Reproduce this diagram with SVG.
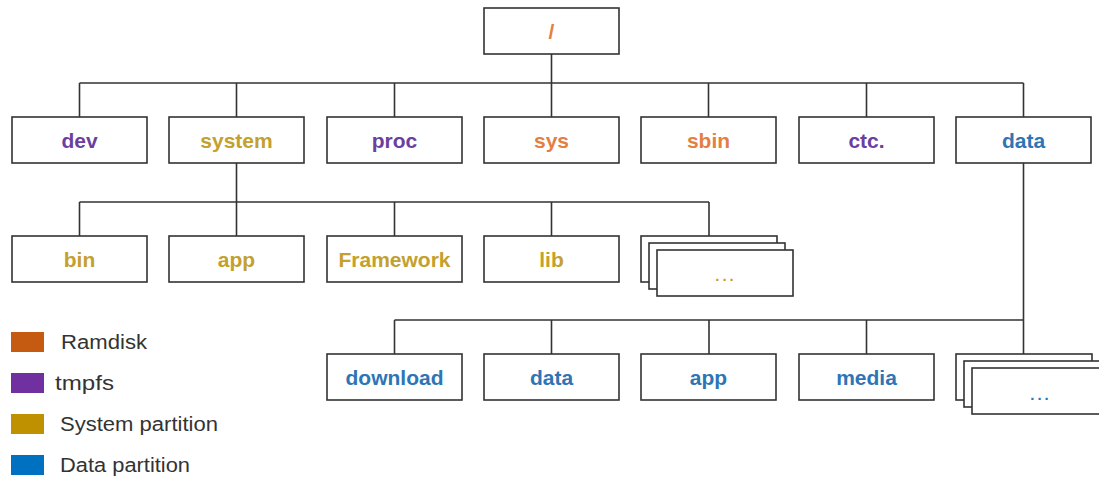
<svg xmlns="http://www.w3.org/2000/svg" width="1099" height="477" viewBox="0 0 1099 477">
<style>
.box{fill:#fff;stroke:#333;stroke-width:1.6}
.lbl{font-family:"Liberation Sans",Arial,sans-serif;font-weight:bold;font-size:21px;text-anchor:middle}
.dots{font-family:"Liberation Sans",Arial,sans-serif;font-weight:bold;font-size:15px;text-anchor:middle;letter-spacing:3px}
.leg{font-family:"Liberation Sans",Arial,sans-serif;font-size:20px;fill:#333}
.ram{fill:#E4803F}.tmp{fill:#6B3FA0}.sysp{fill:#C4A02E}.dat{fill:#2E75B6}
.con{fill:none;stroke:#333;stroke-width:1.6}
</style>
<rect width="1099" height="477" fill="#fff"/>
<g id="connectors">
<path class="con" d="M551.5 54V83M79.5 83H1023.5M79.5 83V117M236.5 83V117M394.5 83V117M551.5 83V117M708.5 83V117M866.5 83V117M1023.5 83V117"/>
<path class="con" d="M236.5 163V202M79.5 202H709M79.5 202V236M236.5 202V236M394.5 202V236M551.5 202V236M709 202V236"/>
<path class="con" d="M1023.5 163V354M394.5 320H1023.5M394.5 320V354M551.5 320V354M709 320V354M866.5 320V354"/>
</g>
<g id="root"><rect class="box" x="484" y="8" width="135" height="46"/><text class="lbl ram" x="551.5" y="39">/</text></g>
<g id="dev"><rect class="box" x="12" y="117" width="135" height="46"/><text class="lbl tmp" x="79.5" y="148">dev</text></g>
<g id="system"><rect class="box" x="169" y="117" width="135" height="46"/><text class="lbl sysp" x="236.5" y="148">system</text></g>
<g id="proc"><rect class="box" x="327" y="117" width="135" height="46"/><text class="lbl tmp" x="394.5" y="148">proc</text></g>
<g id="sys"><rect class="box" x="484" y="117" width="135" height="46"/><text class="lbl ram" x="551.5" y="148">sys</text></g>
<g id="sbin"><rect class="box" x="641" y="117" width="135" height="46"/><text class="lbl ram" x="708.5" y="148">sbin</text></g>
<g id="ctc"><rect class="box" x="799" y="117" width="135" height="46"/><text class="lbl tmp" x="866.5" y="148">ctc.</text></g>
<g id="data"><rect class="box" x="956" y="117" width="135" height="46"/><text class="lbl dat" x="1023.5" y="148">data</text></g>
<g id="bin"><rect class="box" x="12" y="236" width="135" height="46"/><text class="lbl sysp" x="79.5" y="267">bin</text></g>
<g id="sys-app"><rect class="box" x="169" y="236" width="135" height="46"/><text class="lbl sysp" x="236.5" y="267">app</text></g>
<g id="framework"><rect class="box" x="327" y="236" width="135" height="46"/><text class="lbl sysp" x="394.5" y="267">Framework</text></g>
<g id="lib"><rect class="box" x="484" y="236" width="135" height="46"/><text class="lbl sysp" x="551.5" y="267">lib</text></g>
<g id="sys-more"><rect class="box" x="641" y="236" width="136" height="46"/><rect class="box" x="649" y="243" width="136" height="46"/><rect class="box" x="657" y="250" width="136" height="46"/><text class="dots sysp" x="726" y="281">...</text></g>
<g id="download"><rect class="box" x="327" y="354" width="135" height="46"/><text class="lbl dat" x="394.5" y="385">download</text></g>
<g id="data-data"><rect class="box" x="484" y="354" width="135" height="46"/><text class="lbl dat" x="551.5" y="385">data</text></g>
<g id="data-app"><rect class="box" x="641" y="354" width="135" height="46"/><text class="lbl dat" x="708.5" y="385">app</text></g>
<g id="media"><rect class="box" x="799" y="354" width="135" height="46"/><text class="lbl dat" x="866.5" y="385">media</text></g>
<g id="data-more"><rect class="box" x="956" y="354" width="136" height="46"/><rect class="box" x="964" y="361" width="136" height="46"/><rect class="box" x="972" y="368" width="136" height="46"/><text class="dots dat" x="1041" y="400">...</text></g>
<g id="legend">
<rect x="11" y="332" width="33" height="20" fill="#C55A11"/><text class="leg" x="61" y="349" textLength="86" lengthAdjust="spacingAndGlyphs">Ramdisk</text>
<rect x="11" y="373" width="33" height="20" fill="#7030A0"/><text class="leg" x="55" y="390" textLength="59" lengthAdjust="spacingAndGlyphs">tmpfs</text>
<rect x="11" y="414" width="33" height="20" fill="#BF9000"/><text class="leg" x="60" y="431" textLength="158" lengthAdjust="spacingAndGlyphs">System partition</text>
<rect x="11" y="455" width="33" height="20" fill="#0070C0"/><text class="leg" x="60" y="472" textLength="130" lengthAdjust="spacingAndGlyphs">Data partition</text>
</g>
</svg>
